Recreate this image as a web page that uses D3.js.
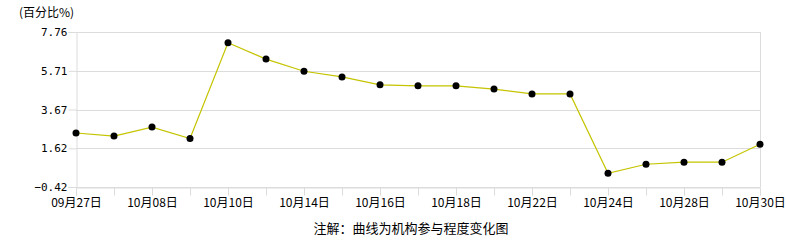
<!DOCTYPE html>
<html><head><meta charset="utf-8">
<script src="https://cdn.jsdelivr.net/npm/d3@7"></script>
<style>
body{margin:0;background:#fff;}
text{font-family:"Noto Sans CJK SC","DejaVu Sans",sans-serif;font-size:12px;fill:#000;}
</style></head><body>
<svg id="chart" width="786" height="240"></svg>
<script>
const dates = ["09月27日","09月30日","10月08日","10月09日","10月10日","10月11日","10月14日","10月15日","10月16日","10月17日","10月18日","10月21日","10月22日","10月23日","10月24日","10月25日","10月28日","10月29日","10月30日"];
const values = [2.43,2.27,2.74,2.14,7.19,6.33,5.69,5.39,4.97,4.92,4.92,4.75,4.49,4.49,0.30,0.78,0.89,0.89,1.84];
const yTicks = [-0.42,1.62,3.67,5.71,7.76];

(function(){
const svg = d3.select("#chart");
const mLeft = 76, mRight = 760, mTop = 32, mBottom = 187;
const x = d3.scalePoint().domain(dates).range([mLeft, mRight]);
const y = d3.scaleLinear().domain([-0.42, 7.76]).range([mBottom, mTop]);
const grid = "#dcdcdc";

svg.append("g").selectAll("line").data(yTicks).join("line")
  .attr("x1", mLeft).attr("x2", mRight)
  .attr("y1", d => Math.round(y(d)) + 0.5).attr("y2", d => Math.round(y(d)) + 0.5)
  .attr("stroke", grid).attr("stroke-width", 1);

svg.append("line").attr("x1", mRight + 0.5).attr("x2", mRight + 0.5)
  .attr("y1", mTop).attr("y2", mBottom).attr("stroke", grid);

const yAxis = d3.axisLeft(y).tickValues(yTicks).tickSize(8).tickPadding(1)
  .tickFormat(d3.format(".2f"));
const gy = svg.append("g").attr("transform", `translate(${mLeft + 0.5},0)`).call(yAxis);
gy.select(".domain").attr("stroke", grid);
gy.selectAll(".tick line").attr("stroke", grid);
gy.selectAll(".tick text").style("font-family", "'DejaVu Sans Mono','Liberation Mono',monospace").style("font-size", "11px");

const xAxis = d3.axisBottom(x).tickSize(8).tickPadding(3)
  .tickFormat((d, i) => i % 2 === 0 ? d : "");
const gx = svg.append("g").attr("transform", `translate(0,${mBottom + 0.5})`).call(xAxis);
gx.select(".domain").attr("stroke", grid);
gx.selectAll(".tick line").attr("stroke", grid);
gx.selectAll(".tick text").style("font-size", "12px").style("font-family", "'Noto Sans CJK SC',sans-serif");

svg.append("path").datum(values)
  .attr("fill", "none").attr("stroke", "#c4c400").attr("stroke-width", 1.2)
  .attr("d", d3.line().x((d, i) => x(dates[i])).y(d => y(d)));

svg.append("g").selectAll("circle").data(values).join("circle")
  .attr("cx", (d, i) => x(dates[i])).attr("cy", d => y(d))
  .attr("r", 3.5).attr("fill", "#000");

svg.append("text").attr("x", 19).attr("y", 17).style("font-size", "12px").text("(百分比%)");

svg.append("text").attr("x", 411).attr("y", 233).attr("text-anchor", "middle")
  .style("font-size", "13px")
  .text("注解：曲线为机构参与程度变化图");
})();
</script>
</body></html>
